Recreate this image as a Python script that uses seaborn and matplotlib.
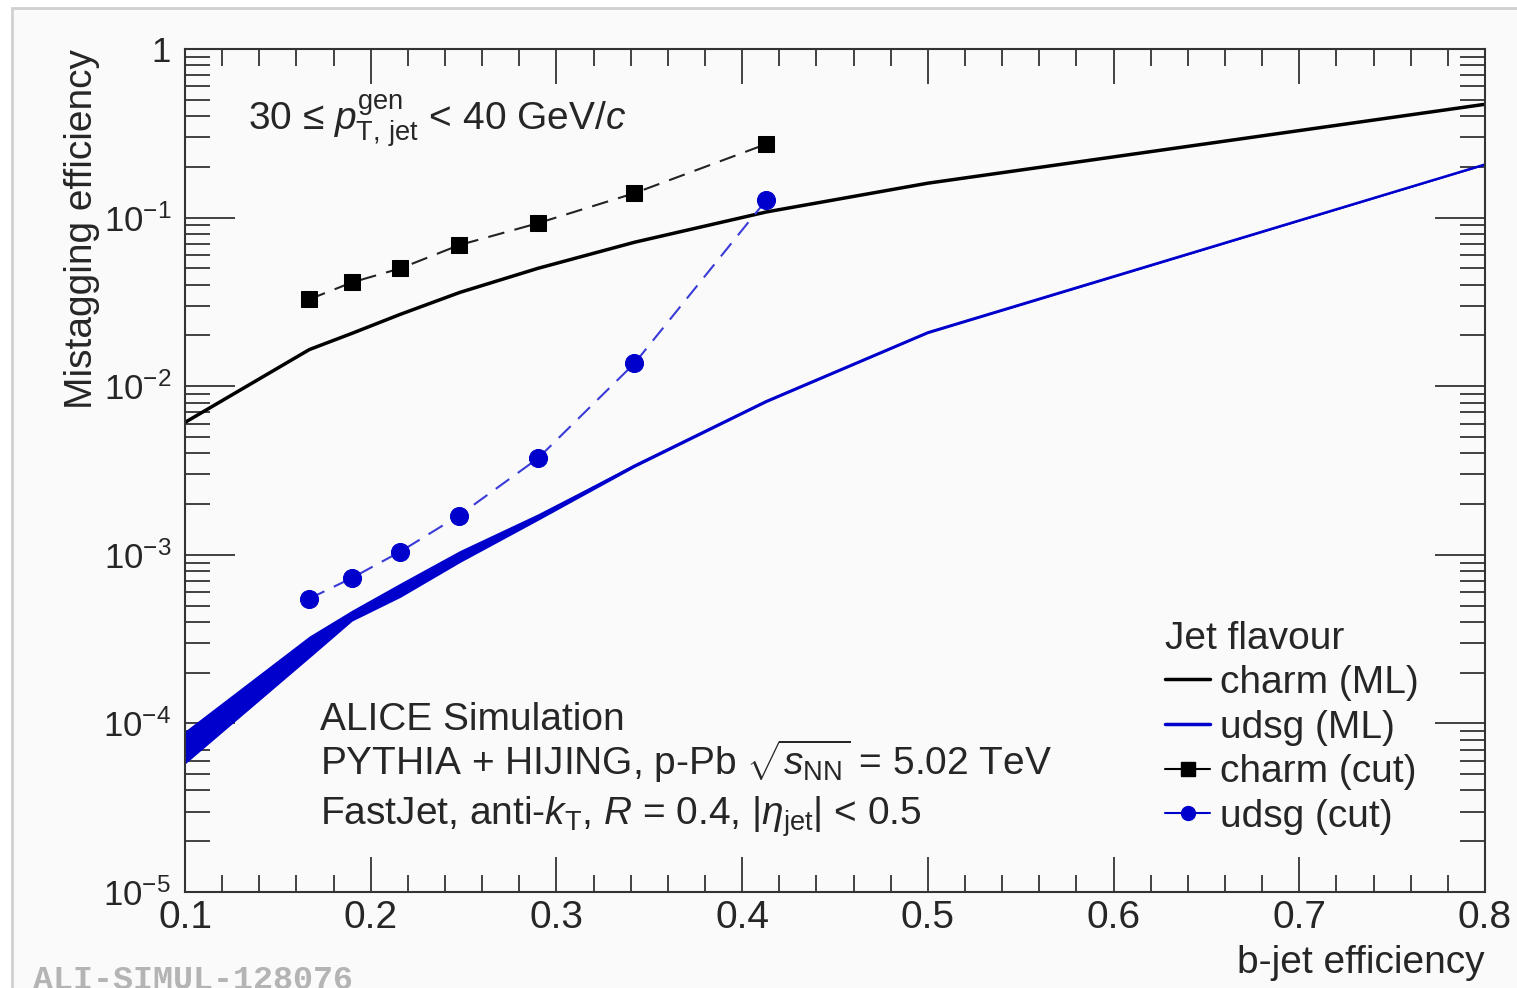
# b-jet tagging: mistagging efficiency vs b-jet efficiency (ALICE simulation)

import numpy as np
import matplotlib
matplotlib.use('Agg')
import matplotlib.pyplot as plt
import seaborn as sns
from matplotlib.lines import Line2D
from matplotlib.patches import Rectangle
from matplotlib.ticker import MultipleLocator, LogLocator, FixedLocator, FixedFormatter, NullFormatter

# data
eff_ml = [0.1, 0.167, 0.19, 0.216, 0.248, 0.29, 0.342, 0.413, 0.5, 0.8]
charm_ml = [6.1e-3, 0.0165, 0.0206, 0.0267, 0.036, 0.050, 0.0714, 0.108, 0.160, 0.47]
udsg_ml_hi = [9.0e-5, 3.3e-4, 4.7e-4, 6.8e-4, 1.06e-3, 1.75e-3, 3.45e-3, 8.3e-3, 0.0212, 0.208]
udsg_ml_lo = [5.75e-5, 2.45e-4, 4.05e-4, 5.6e-4, 9.0e-4, 1.6e-3, 3.3e-3, 8.0e-3, 0.0205, 0.205]

eff_cut = [0.167, 0.19, 0.216, 0.2475, 0.29, 0.342, 0.413]
charm_cut = [0.0328, 0.0413, 0.050, 0.0686, 0.0926, 0.1396, 0.273]
udsg_cut = [5.5e-4, 7.3e-4, 1.045e-3, 1.71e-3, 3.73e-3, 0.01365, 0.127]

x_ticks = [0.1, 0.2, 0.3, 0.4, 0.5, 0.6, 0.7, 0.8]
x_ticklabels = ['0.1', '0.2', '0.3', '0.4', '0.5', '0.6', '0.7', '0.8']
y_ticks = [1e-5, 1e-4, 1e-3, 1e-2, 1e-1, 1]
y_ticklabels = ['$10^{-5}$', '$10^{-4}$', '$10^{-3}$', '$10^{-2}$', '$10^{-1}$', '1']

sns.set_style('ticks')
plt.rcParams['font.family'] = ['Liberation Sans', 'DejaVu Sans']
plt.rcParams['mathtext.fontset'] = 'custom'
plt.rcParams['mathtext.rm'] = 'Liberation Sans'
plt.rcParams['mathtext.it'] = 'Liberation Sans:italic'
plt.rcParams['mathtext.sf'] = 'Liberation Sans'

BLUE = '#0000cc'
FS = 28

fig = plt.figure(figsize=(15.17, 9.88), dpi=100, facecolor='white')
fig.patches.append(Rectangle((12 / 1517, -0.01), 1.0, 1 - 8 / 988 + 0.01, transform=fig.transFigure,
                             facecolor='#fafafa', edgecolor='#d0d0d0', lw=2, zorder=-10))
ax = fig.add_axes([185 / 1517, 1 - 892 / 988, 1300 / 1517, 843 / 988])
ax.set_facecolor('#fafafa')

# ML curves
ax.fill_between(eff_ml, udsg_ml_lo, udsg_ml_hi, color=BLUE, lw=0)
udsg_mid = np.sqrt(np.array(udsg_ml_lo) * np.array(udsg_ml_hi))
sns.lineplot(x=eff_ml, y=udsg_mid, color=BLUE, lw=1.8, ax=ax)
sns.lineplot(x=eff_ml, y=charm_ml, color='black', lw=2.5, ax=ax)

# cut-based points
sns.lineplot(x=eff_cut, y=charm_cut, color='#222222', lw=1.5, ax=ax,
             marker='s', markersize=12, markeredgecolor='black', markerfacecolor='black')
ax.lines[-1].set_dashes([8, 5])
sns.lineplot(x=eff_cut, y=udsg_cut, color='#3a3ad8', lw=1.5, ax=ax,
             marker='o', markersize=13, markeredgecolor=BLUE, markerfacecolor=BLUE)
ax.lines[-1].set_dashes([8, 5])

ax.set_yscale('log')
ax.set_xlim(0.1, 0.8)
ax.set_ylim(1e-5, 1)

ax.xaxis.set_major_locator(FixedLocator(x_ticks))
ax.xaxis.set_major_formatter(FixedFormatter(x_ticklabels))
ax.xaxis.set_minor_locator(MultipleLocator(0.02))
ax.yaxis.set_major_locator(FixedLocator(y_ticks))
ax.yaxis.set_major_formatter(FixedFormatter(y_ticklabels))
ax.yaxis.set_minor_locator(LogLocator(base=10, subs=np.arange(2, 10), numticks=20))
ax.yaxis.set_minor_formatter(NullFormatter())

ax.tick_params(which='both', direction='in', top=True, right=True, color='#333333', width=1.3)
ax.tick_params(axis='x', which='major', length=25, labelsize=FS, pad=6)
ax.tick_params(axis='x', which='minor', length=12)
ax.tick_params(axis='y', which='major', length=36, labelsize=25, pad=10)
ax.tick_params(axis='y', which='minor', length=18)
for s in ax.spines.values():
    s.set_color('#333333')
    s.set_linewidth(1.5)

ax.set_xlabel('b-jet efficiency', fontsize=FS, loc='right')
ax.xaxis.set_label_coords(1.0, -0.063)
ax.set_ylabel('Mistagging efficiency', fontsize=FS, loc='top')
ax.yaxis.set_label_coords(-0.065, 1.0)

ax.text(0.0485, 0.904, r'30 ≤ $p_{\mathrm{T,\,jet}}^{\mathrm{gen}}$ < 40 GeV/$c$',
        transform=ax.transAxes, fontsize=FS, va='baseline')
ax.text(0.104, 0.192, 'ALICE Simulation', transform=ax.transAxes, fontsize=FS, va='baseline')
ax.text(0.104, 0.139, r'PYTHIA + HIJING, p-Pb $\sqrt{s_{\mathrm{NN}}}$ = 5.02 TeV',
        transform=ax.transAxes, fontsize=FS, va='baseline')
ax.text(0.104, 0.0795, r'FastJet, anti-$k_{\mathrm{T}}$, $R$ = 0.4, |$\eta_{\mathrm{jet}}$| < 0.5',
        transform=ax.transAxes, fontsize=FS, va='baseline')

handles = [
    Line2D([], [], color='black', lw=2.5),
    Line2D([], [], color=BLUE, lw=2.5),
    Line2D([], [], color='black', lw=1.5, marker='s', markersize=10),
    Line2D([], [], color=BLUE, lw=1.5, marker='o', markersize=10),
]
labels = ['charm (ML)', 'udsg (ML)', 'charm (cut)', 'udsg (cut)']
leg = ax.legend(handles, labels, title='Jet flavour', loc='upper left',
                bbox_to_anchor=(0.754, 0.322), frameon=False, fontsize=FS, title_fontsize=FS,
                borderpad=0, borderaxespad=0, handlelength=1.15, handletextpad=0.25,
                labelspacing=0.22, alignment='left')

fig.text(33 / 1517, -0.001, 'ALI-SIMUL-128076', fontsize=24, color='#b4b4b4',
         family='Liberation Mono', weight='bold', va='baseline')

fig.savefig('out.png', dpi=100)
